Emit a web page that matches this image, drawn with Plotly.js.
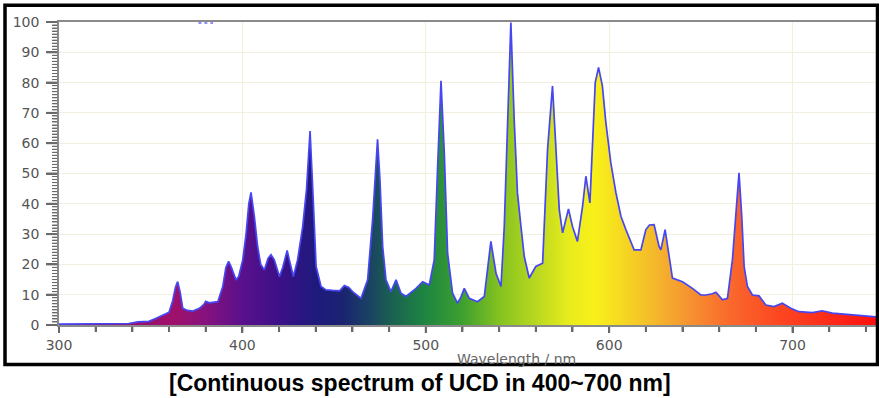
<!DOCTYPE html>
<html>
<head>
<meta charset="utf-8">
<script src="https://cdn.plot.ly/plotly-3.0.1.min.js"></script>
<style>
  html, body { margin: 0; padding: 0; background: #ffffff; }
  #chart { width: 879px; height: 398px; }
  #chart path.xtick, #chart path.ytick {
    stroke: #6a6a6a !important;
    stroke-opacity: 1 !important;
    display: inline !important;
    visibility: visible !important;
  }
</style>
</head>
<body>
<div id="chart"></div>
<script>
// Wavelength (nm) and relative intensity
const wavelengths = [
  300, 310, 320, 330, 338, 343, 349, 353, 357, 360,
  362, 363.5, 364.7, 366, 367.5, 370, 373, 376.6, 379, 380,
  382, 386.6, 389.3, 391, 392.5, 394, 396.5, 398, 400.2, 402,
  403.5, 404.7, 406.5, 408.3, 410, 412, 414, 415.6, 417.4, 420.2,
  422, 424.4, 425.6, 427.8, 430.1, 432.9, 435, 436.9, 438.3, 440.2,
  442.9, 445.6, 449, 453, 455.6, 458, 460.1, 464.7, 468.3, 471,
  473.7, 475, 476.5, 478.3, 481, 483.8, 486.5, 489.2, 494.7, 498.3,
  501.9, 504.6, 506.4, 508.3, 510.1, 511.9, 514.6, 517.3, 519, 521,
  523.7, 528.2, 531.9, 533.7, 535.5, 538.3, 541, 542.8, 544.6, 546.4,
  548.2, 550, 551.9, 553.7, 556.4, 560, 563.7, 566.4, 569.1, 571,
  572.8, 574.6, 577.8, 580, 582.7, 585.5, 587.3, 589.5, 590.9, 592.4,
  594.2, 596.3, 598.2, 600.9, 603.7, 606.4, 609.1, 613.6, 617.3, 620,
  622, 624.5, 627.2, 628.2, 630.5, 632.7, 634.5, 640, 645.4, 650,
  652.7, 656.3, 658.2, 661.8, 664.5, 667.2, 668.7, 670.8, 672.3, 673.6,
  675.4, 678.1, 681.7, 685.4, 689.9, 694.4, 699, 703.5, 710.8, 716.2,
  721.7, 729, 736.2, 745.5
];
const intensity = [
  0.3, 0.4, 0.3, 0.4, 0.5, 1.0, 1.2, 2.2, 3.3, 4.2,
  8, 12.5, 14.3, 11, 5.5, 4.8, 4.6, 5.5, 6.8, 7.8,
  7.3, 7.7, 12.7, 19, 21, 19, 14.9, 16, 21.5, 30,
  40, 43.8, 35.9, 25.9, 20, 18.2, 22, 23.2, 21.5, 16,
  19, 24.6, 21.5, 16, 21.5, 32.5, 45, 64, 45.8, 19.3,
  12.7, 11.6, 11.4, 11.3, 13, 12.4, 11, 8.8, 14.9, 34.8,
  61.3, 48, 25.9, 14.9, 11, 14.9, 10.5, 9.4, 12.1, 14.3,
  13.2, 21.5, 51.3, 80.6, 56.8, 23.7, 10.5, 7.2, 9, 12.1,
  8.8, 7.7, 9.4, 19.3, 27.6, 17.1, 12.7, 32.5, 67.9, 99.8,
  67.9, 43.6, 32.5, 22.6, 15.5, 19.3, 20.4, 57.9, 78.9, 57.9,
  38, 30.4, 38.3, 32.5, 27.6, 39.2, 49.1, 40.3, 57.9, 80,
  85, 78.9, 66.8, 53.5, 43.6, 35.9, 31.5, 24.8, 24.8, 31.5,
  33, 33.1, 25.9, 24.8, 31.5, 22.6, 15.5, 14.3, 12.1, 9.9,
  9.9, 10.3, 10.8, 8.3, 8.8, 21.5, 34.8, 50.2, 35.9, 19.3,
  12.7, 9.9, 9.6, 6.6, 6.1, 7.2, 5.5, 4.4, 4.1, 4.7,
  3.9, 3.6, 3.3, 2.7
];
// Short clipped segment drawn at the top edge in the reference
const clipWavelengths = [376, 384];
const clipIntensity = [99.7, 99.7];

// Spectral fill colours along the wavelength axis
const colorStopWavelengths = [300, 350, 362, 380, 400, 420, 440, 455, 470, 480, 500, 520, 540, 560, 578, 592, 605, 625, 645, 665, 690, 745.5];
const colorStopColors = ['#a0106a', '#98106e', '#a0106a', '#86127e', '#5a108c', '#3c1088', '#1e1a7c', '#1a2470', '#1a4462', '#1a5e52', '#1e8640', '#3ea030', '#84c220', '#b8d820', '#e8ec1c', '#f8f01a', '#f6dc20', '#f4b82c', '#f69030', '#fa6a2c', '#fc4a22', '#ff1010'];

const xStart = 300, xStop = 745.5;
const colorscale = colorStopWavelengths.map((w, i) => [(w - xStart) / (xStop - xStart), colorStopColors[i]]);

const traces = [
  {
    x: wavelengths, y: intensity, type: 'scatter', mode: 'lines', fill: 'tozeroy',
    fillgradient: { type: 'horizontal', colorscale: colorscale, start: xStart, stop: xStop },
    line: { color: '#4646f2', width: 1.7, shape: 'linear' }, showlegend: false
  },
  {
    x: clipWavelengths, y: clipIntensity, type: 'scatter', mode: 'lines',
    line: { color: '#6a6aff', width: 1.5, dash: 'dot' }, showlegend: false, hoverinfo: 'skip'
  }
];

const gridColor = '#f3efde';
const axisColor = '#8a8a8a';
const tickColor = '#6a6a6a';
const tickFont = { family: 'DejaVu Sans, Verdana, sans-serif', size: 14, color: '#555555' };

const layout = {
  width: 879, height: 398,
  margin: { l: 59, r: 3, t: 22, b: 73 },
  paper_bgcolor: '#ffffff', plot_bgcolor: '#ffffff', showlegend: false,
  xaxis: {
    range: [xStart, xStop], dtick: 100, tick0: 300,
    ticks: 'outside', ticklen: 6, tickcolor: tickColor, tickwidth: 1.5, tickfont: tickFont,
    showline: true, linecolor: axisColor, linewidth: 1.5, mirror: true,
    showgrid: true, gridcolor: gridColor, gridwidth: 1, zeroline: false,
    minor: { dtick: 20, ticks: 'outside', ticklen: 5, tickwidth: 1.5, tickcolor: tickColor }
  },
  yaxis: {
    range: [0, 100], dtick: 10,
    ticks: 'outside', ticklen: 11, tickcolor: tickColor, tickwidth: 1.5, tickfont: tickFont,
    ticklabelstandoff: 4,
    showline: true, linecolor: axisColor, linewidth: 1.5,
    showgrid: true, gridcolor: gridColor, gridwidth: 1, zeroline: false,
    minor: { dtick: 1, ticks: 'outside', ticklen: 5, tickwidth: 1.2, tickcolor: tickColor }
  },
  shapes: [
    {
      type: 'rect', xref: 'paper', yref: 'paper',
      x0: (5 - 59) / 817, x1: (877.5 - 59) / 817,
      y0: (325 - 364.5) / 303, y1: (325 - 5.3) / 303,
      line: { color: '#000000', width: 3.5 }, fillcolor: 'rgba(0,0,0,0)', layer: 'above'
    }
  ],
  annotations: [
    {
      text: 'Wavelength / nm', xref: 'paper', yref: 'paper',
      x: (516 - 59) / 817, y: (325 - 359) / 303, xanchor: 'center', yanchor: 'middle', showarrow: false,
      font: { family: 'DejaVu Sans, Verdana, sans-serif', size: 14, color: '#666666' }
    },
    {
      text: '<b>[Continuous spectrum of UCD in 400~700 nm]</b>', xref: 'paper', yref: 'paper',
      x: (420 - 59) / 817, y: (325 - 383) / 303, xanchor: 'center', yanchor: 'middle', showarrow: false,
      font: { family: 'Liberation Sans, Arial, sans-serif', size: 23, color: '#000000' }
    }
  ]
};

Plotly.newPlot('chart', traces, layout, { displayModeBar: false }).then(function (gd) {
  // Bring Plotly's own tick marks to the top of the drawing so nothing can mask them
  const ns = 'http://www.w3.org/2000/svg';
  const svgs = gd.querySelectorAll('svg.main-svg');
  if (!svgs.length) return;
  const topSvg = svgs[svgs.length - 1];
  const group = document.createElementNS(ns, 'g');
  group.setAttribute('class', 'tick-overlay');
  gd.querySelectorAll('path.xtick, path.ytick').forEach(function (p) {
    const m = p.getCTM();
    if (!m) return;
    const c = p.cloneNode(true);
    c.setAttribute('class', 'tickcopy');
    c.setAttribute('transform', 'matrix(' + [m.a, m.b, m.c, m.d, m.e, m.f].join(',') + ')');
    c.style.stroke = tickColor;
    c.style.strokeOpacity = '1';
    c.style.fill = 'none';
    group.appendChild(c);
  });
  topSvg.appendChild(group);
});
</script>
</body>
</html>
